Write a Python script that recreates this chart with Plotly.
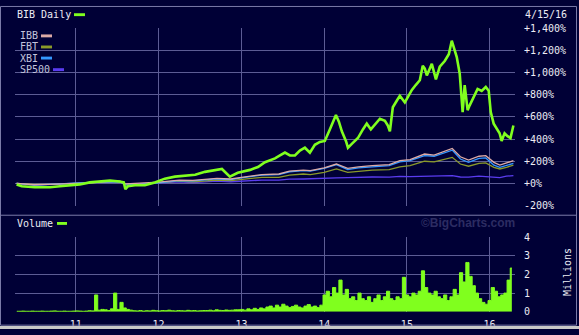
import plotly.graph_objects as go
import pandas as pd

# ---------------- data ----------------
bib_dates = ["2010-04-15", "2010-05-08", "2010-07-04", "2010-09-09", "2010-10-23", "2010-12-06",
             "2011-01-19", "2011-03-04", "2011-04-17", "2011-06-01", "2011-07-14", "2011-08-01",
             "2011-08-08", "2011-08-19", "2011-09-19", "2011-11-02", "2011-12-16", "2012-01-29",
             "2012-03-14", "2012-04-27", "2012-06-11", "2012-07-24", "2012-09-07", "2012-10-07",
             "2012-11-11", "2012-12-16", "2013-02-08", "2013-03-15", "2013-04-15", "2013-05-07",
             "2013-05-29", "2013-06-20", "2013-07-12", "2013-08-03", "2013-08-25", "2013-09-16",
             "2013-10-08", "2013-10-30", "2013-11-21", "2013-12-13", "2014-01-04", "2014-01-26",
             "2014-02-13", "2014-02-22", "2014-03-07", "2014-03-20", "2014-04-07", "2014-04-16",
             "2014-05-03", "2014-05-30", "2014-06-21", "2014-07-08", "2014-07-26", "2014-08-17",
             "2014-09-04", "2014-09-26", "2014-10-09", "2014-10-18", "2014-10-31", "2014-11-18",
             "2014-12-01", "2014-12-23", "2015-01-05", "2015-01-23", "2015-02-09", "2015-02-27",
             "2015-03-12", "2015-03-21", "2015-03-30", "2015-04-21", "2015-05-09", "2015-05-26",
             "2015-06-17", "2015-07-05", "2015-07-18", "2015-07-31", "2015-08-09", "2015-08-22",
             "2015-08-31", "2015-09-04", "2015-09-13", "2015-09-26", "2015-10-05", "2015-10-23",
             "2015-11-09", "2015-11-27", "2015-12-15", "2015-12-28", "2016-01-06", "2016-01-19",
             "2016-02-01", "2016-02-14", "2016-02-23", "2016-03-07", "2016-03-20", "2016-04-02",
             "2016-04-15"]
bib_pct = [-9, -26, -35, -35, -26, -17,
           -9, 9, 17, 26, 17, 9,
           -52, -26, -17, -17, 9, 43,
           61, 70, 78, 104, 122, 130,
           61, 96, 122, 148, 191, 209,
           226, 252, 278, 252, 252, 296,
           322, 278, 348, 374, 383, 487,
           574, 617, 557, 470, 383, 322,
           357, 409, 487, 539, 487, 539,
           583, 565, 522, 470, 687, 748,
           791, 730, 774, 843, 887, 930,
           1061, 1035, 974, 1078, 939, 1052,
           1104, 1165, 1287, 1209, 1139, 991,
           730, 643, 887, 661, 704, 774,
           852, 835, 870, 835, 643, 539,
           496, 452, 383, 452, 426, 409,
           522]

peer_dates = ["2010-04-15", "2010-07-01", "2010-09-01", "2010-12-01", "2011-02-15", "2011-05-01",
              "2011-07-15", "2011-08-10", "2011-10-01", "2012-01-01", "2012-04-01", "2012-06-01",
              "2012-09-15", "2012-11-15", "2013-01-01", "2013-04-01", "2013-06-15", "2013-08-01",
              "2013-10-01", "2013-11-01", "2014-01-01", "2014-02-24", "2014-04-15", "2014-06-01",
              "2014-08-01", "2014-10-15", "2014-12-01", "2015-01-15", "2015-03-20", "2015-05-01",
              "2015-07-20", "2015-08-25", "2015-09-30", "2015-11-15", "2015-12-15", "2016-01-20",
              "2016-02-15", "2016-03-15", "2016-04-15"]
ibb_pct = [0, -12, -8, -2, 3, 15, 20, -5, 0, 12, 30, 28, 45, 40, 55, 80, 85, 110, 120, 115,
           140, 175, 135, 150, 160, 170, 205, 215, 265, 255, 315, 240, 210, 245, 250, 190,
           165, 185, 205]
xbi_pct = [0, -15, -10, 2, 8, 12, 15, -15, -10, 5, 25, 22, 40, 35, 50, 75, 80, 105, 115, 110,
           135, 170, 125, 140, 150, 160, 195, 205, 250, 245, 300, 220, 190, 225, 230, 165,
           145, 165, 180]
fbt_pct = [0, -10, -8, 2, 6, 12, 12, -12, -8, 5, 20, 15, 30, 25, 35, 55, 55, 75, 85, 80,
           100, 130, 100, 110, 120, 125, 150, 160, 200, 195, 235, 175, 155, 180, 185, 145,
           130, 145, 165]
sp500_pct = [0, -12, -8, 2, 10, 12, 10, -8, -6, 5, 15, 8, 20, 15, 20, 30, 30, 38, 40, 43,
             48, 50, 52, 56, 58, 56, 63, 62, 67, 68, 70, 58, 57, 66, 64, 55,
             53, 65, 70]

volume_start = "2010-04-16"   # bi-weekly volume, millions of shares
volume_m = [0.02, 0.02, 0.03, 0.02, 0.02, 0.03, 0.02, 0.02, 0.03, 0.02, 0.02, 0.03, 0.04,
            0.02, 0.02, 0.03, 0.02, 0.02, 0.03, 0.04, 0.03, 0.02, 0.03, 0.05, 0.04,
            0.9, 0.08, 0.12, 0.1, 0.06, 0.15, 1.0, 0.12, 0.5, 0.2, 0.12, 0.08,
            0.05, 0.04, 0.06, 0.03, 0.05, 0.04, 0.07, 0.05, 0.04, 0.06, 0.05, 0.08, 0.05,
            0.04, 0.06, 0.05, 0.04, 0.07, 0.05, 0.06, 0.04, 0.05, 0.06,
            0.06, 0.08, 0.05, 0.1, 0.07, 0.06, 0.09, 0.07, 0.08, 0.1,
            0.1, 0.12, 0.08, 0.15, 0.1, 0.18, 0.12, 0.2, 0.15, 0.25, 0.3, 0.2, 0.35, 0.25,
            0.4, 0.3, 0.22, 0.28, 0.35, 0.25, 0.2, 0.3, 0.38, 0.25, 0.3, 0.22, 0.35,
            0.9, 1.1, 0.8, 1.3, 1.0, 1.7, 0.9, 1.2, 0.7, 0.8, 0.6, 1.0, 0.7, 0.6, 0.8, 0.5,
            0.7, 0.9, 0.6, 0.8, 1.1, 0.7, 0.6, 0.8, 0.7,
            1.85, 0.9, 0.8, 1.0, 0.9, 1.1, 2.2, 1.3, 1.0, 0.9, 1.1, 0.8, 0.7, 0.9, 0.6, 0.8,
            1.2, 0.9, 2.1, 1.6, 2.65, 1.9, 1.4, 1.0, 0.7, 0.5, 0.4, 0.6, 1.3, 1.1, 0.8, 0.9,
            1.0, 1.7, 2.35]

year_ticks = ["2011-01-01", "2012-01-01", "2013-01-01", "2014-01-01", "2015-01-01", "2016-01-01"]
year_labels = ["11", "12", "13", "14", "15", "16"]
pct_ticks = [-200, 0, 200, 400, 600, 800, 1000, 1200, 1400]
pct_labels = ["-200%", "+0%", "+200%", "+400%", "+600%", "+800%", "+1,000%", "+1,200%", "+1,400%"]
vol_ticks = [0, 1, 2, 3, 4]
vol_labels = ["0", "1", "2", "3", "4"]

# ---------------- styling ----------------
W, H = 579, 335
BG = "#000036"
GRID = "#5c5c94"
FRAME = "#7a7aa8"
TXT = "#ececf4"
LEG = "#c4c4dc"
FONT = "DejaVu Sans Mono"
C_BIB = "#80ff1e"
C_IBB = "#dcaaa6"
C_FBT = "#8a9a2a"
C_XBI = "#3498ff"
C_SP = "#5a3cf0"


def px(x):
    return x / W


def py(y):
    return 1 - y / H


vol_dates = pd.date_range(volume_start, periods=len(volume_m), freq="14D")

fig = go.Figure()
for name, vals, col, w in [("SP500", sp500_pct, C_SP, 1.3), ("FBT", fbt_pct, C_FBT, 1.3),
                           ("XBI", xbi_pct, C_XBI, 1.3), ("IBB", ibb_pct, C_IBB, 1.3)]:
    fig.add_trace(go.Scatter(x=peer_dates, y=vals, mode="lines", name=name,
                             line=dict(color=col, width=w), xaxis="x", yaxis="y"))
fig.add_trace(go.Scatter(x=bib_dates, y=bib_pct, mode="lines", name="BIB",
                         line=dict(color=C_BIB, width=2.6), xaxis="x", yaxis="y"))
fig.add_trace(go.Scatter(x=vol_dates, y=volume_m, name="Volume", mode="lines",
                         line=dict(color=C_BIB, width=1, shape="hvh"), fill="tozeroy",
                         fillcolor=C_BIB, xaxis="x2", yaxis="y2"))

xr = ["2010-04-08", "2016-04-22"]
xdom = [px(15), px(515)]
common_x = dict(type="date", range=xr, domain=xdom, showgrid=True, gridcolor=GRID, gridwidth=1,
                tickvals=year_ticks, zeroline=False, showline=False, ticks="")
fig.update_layout(
    width=W, height=H, margin=dict(l=0, r=0, t=0, b=0),
    paper_bgcolor=BG, plot_bgcolor=BG, showlegend=False,
    font=dict(family=FONT, size=10, color=TXT),
    xaxis=dict(**common_x, anchor="y", showticklabels=False),
    xaxis2=dict(**common_x, anchor="y2", matches="x", ticktext=year_labels, showticklabels=True,
                ticklabelstandoff=5, tickfont=dict(family=FONT, size=10, color=TXT)),
    yaxis=dict(domain=[py(207), py(23)], range=[-200, 1400], side="right", anchor="x",
               tickvals=pct_ticks, ticktext=pct_labels, showgrid=True, gridcolor=GRID,
               zeroline=False, ticks="", ticklabelstandoff=8,
               tickfont=dict(family=FONT, size=10, color=TXT)),
    yaxis2=dict(domain=[py(317), py(240)], range=[0, 4], side="right", anchor="x2",
                tickvals=vol_ticks, ticktext=vol_labels, showgrid=True, gridcolor=GRID,
                zeroline=False, ticks="", ticklabelstandoff=8,
                tickfont=dict(family=FONT, size=10, color=TXT)),
)

shapes = []
# frame and separator
shapes.append(dict(type="line", xref="paper", yref="paper", x0=0, x1=px(577), y0=py(217), y1=py(217),
                   line=dict(color=FRAME, width=1)))
shapes.append(dict(type="rect", xref="paper", yref="paper", x0=px(0.5), x1=px(576.5), y0=py(331), y1=py(0.5),
                   line=dict(color=FRAME, width=1)))
shapes.append(dict(type="rect", xref="paper", yref="paper", x0=0, x1=1, y0=0, y1=py(332),
                   fillcolor="#c8c8c8", line=dict(width=0)))
# legend swatches
for (x0, x1, yc, col) in [(74, 85, 9, C_BIB), (41, 52, 31, C_IBB), (41, 52, 42.5, C_FBT),
                          (41, 52, 54, C_XBI), (53, 64, 66, C_SP), (57, 67, 225.5, C_BIB)]:
    shapes.append(dict(type="rect", xref="paper", yref="paper", x0=px(x0), x1=px(x1),
                       y0=py(yc + 1.5), y1=py(yc - 1.5), fillcolor=col, line=dict(width=0)))
fig.update_layout(shapes=shapes)

ann = []


def text(x, y, s, color=TXT, size=10, anchor="left", family=FONT, angle=0):
    ann.append(dict(x=px(x), y=py(y), xref="paper", yref="paper", text=s, showarrow=False,
                    xanchor=anchor, yanchor="middle", textangle=angle,
                    font=dict(family=family, size=size, color=color)))


text(15, 9, "BIB Daily", TXT)
text(18, 31, "IBB", LEG)
text(18, 42.5, "FBT", LEG)
text(18, 54, "XBI", LEG)
text(18, 66, "SP500", LEG)
text(15, 225.5, "Volume", TXT)
text(523, 9, "4/15/16", TXT)
text(567, 276, "Millions", TXT, angle=-90, anchor="center")
text(468, 225, "©BigCharts.com", "#2c2c62", size=12, anchor="center", family="Liberation Sans")
ann[-1]["font"]["weight"] = "bold"
fig.update_layout(annotations=ann)

fig.write_html("out.html")
